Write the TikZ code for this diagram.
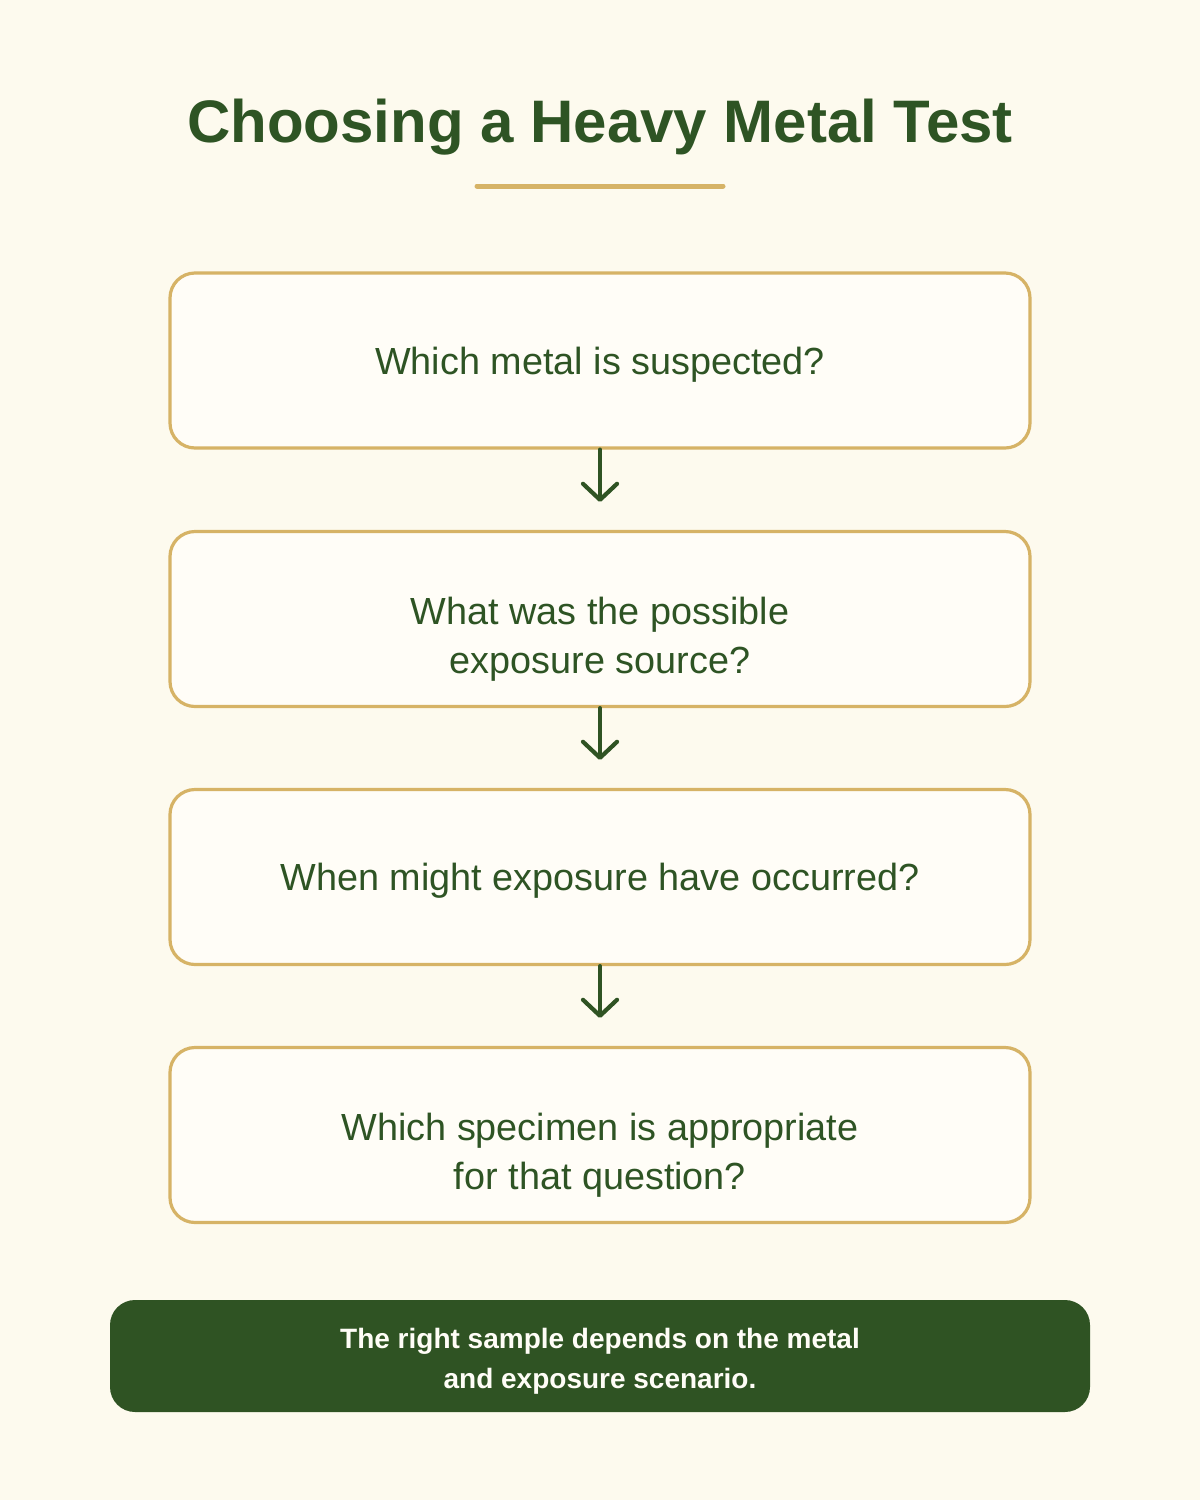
\documentclass[tikz,border=0pt]{standalone}
\usepackage{fontspec}
\setmainfont{Liberation Sans}
\usepackage{tikz}
\usetikzlibrary{positioning,arrows.meta}

\definecolor{cream}{HTML}{FDFAEE}
\definecolor{boxfill}{HTML}{FFFDF7}
\definecolor{gold}{HTML}{D6B366}
\definecolor{leaf}{HTML}{2F5323}
\definecolor{textgreen}{HTML}{2E5424}

\begin{document}
\begin{tikzpicture}[x=0.5pt,y=-0.5pt,
  question/.style={draw=gold,line width=1.6pt,fill=boxfill,rounded corners=12.5pt,
    minimum width=430pt,minimum height=87.5pt},
  qtext/.style={align=center,text=textgreen,font=\fontsize{18.9}{24.5}\selectfont},
  flowarrow/.style={draw=leaf,line width=2.1pt,line cap=round,
    -{Straight Barb[length=8pt,width=17pt,round]}}]

% Background and frame
\fill[cream] (0,0) rectangle (1200,1500);
\useasboundingbox (0,0) rectangle (1200,1500);

% Title
\node[text=textgreen,font=\fontsize{30}{36}\bfseries\selectfont] (title) at (600,127) {Choosing a Heavy Metal Test};
\draw[gold,line width=2.5pt,line cap=round] (477,186) -- (723,186);

% Question boxes
\node[question] (q1) at (600,360.5) {};
\node[question] (q2) at (600,619) {};
\node[question] (q3) at (600,877) {};
\node[question] (q4) at (600,1135) {};

\node[qtext] (t1) at ([yshift=-2pt]q1.center) {Which metal is suspected?};
\node[qtext] (t2) at ([yshift=-10pt]q2.center) {What was the possible\\exposure source?};
\node[qtext] (t3) at ([yshift=-2pt]q3.center) {When might exposure have occurred?};
\node[qtext] (t4) at ([yshift=-10pt]q4.center) {Which specimen is appropriate\\for that question?};

% Arrows
\draw[flowarrow] (q1.south) -- ([yshift=14pt]q2.north);
\draw[flowarrow] (q2.south) -- ([yshift=14pt]q3.north);
\draw[flowarrow] (q3.south) -- ([yshift=14pt]q4.north);

% Summary
\node[fill=leaf,rounded corners=12.5pt,minimum width=490pt,minimum height=56pt] (note) at (600,1356) {};
\node[align=center,text=boxfill,font=\fontsize{14}{20}\bfseries\selectfont] (notetext) at ([yshift=-2.5pt]note.center)
  {The right sample depends on the metal\\and exposure scenario.};

\end{tikzpicture}
\end{document}
